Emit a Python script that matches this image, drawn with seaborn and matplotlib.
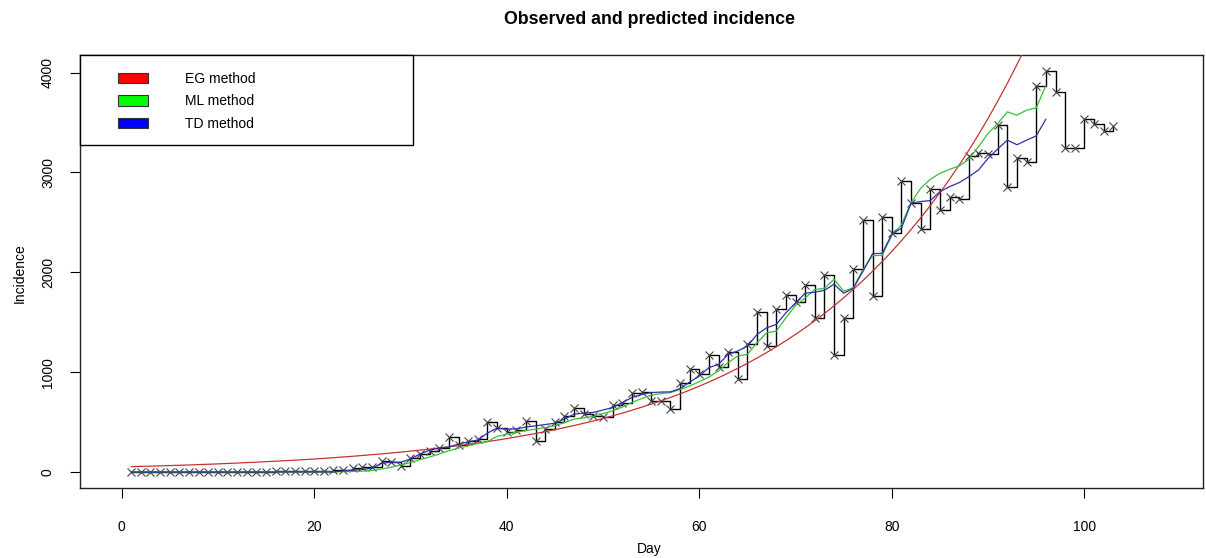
import matplotlib
matplotlib.use('Agg')
import matplotlib.pyplot as plt
from matplotlib.patches import Patch, Rectangle
import seaborn as sns
import numpy as np

# Observed incidence, days 1..103
days_obs = np.arange(1, 104)
observed = [2, 0, 1, 0, 0, 2, 1, 3, 1, 2, 3, 2, 4, 3, 2, 5, 6, 8,
            10, 12, 12, 15,
            23, 37, 47, 53, 113, 97, 63, 137, 180, 213, 236, 346, 270, 313, 329, 500, 440, 400,
            418, 512, 312, 429, 505, 560, 645, 579, 565, 546, 675, 695, 795, 798, 712, 712, 632, 895, 1035, 978,
            1168, 1051, 1200, 928, 1277, 1604, 1260, 1627, 1770, 1700, 1876, 1544, 1976, 1168, 1544, 2033, 2525, 1766, 2550, 2392,
            2917, 2698, 2432, 2831, 2625, 2751, 2731, 3164, 3190, 3180, 3473, 2855, 3147, 3100, 3865, 4015, 3806, 3247, 3240, 3533, 3486, 3413, 3466]

# Predicted incidence, days 1..96
days_pred = np.arange(1, 97)
eg_pred = [53, 56, 58, 61, 64, 67, 70, 74, 77, 81, 85, 89, 94, 98, 103, 108, 113, 118, 124, 130,
           136, 143, 150, 157, 165, 173, 181, 190, 199, 209, 219, 229, 240, 252, 264, 277, 290, 304, 319, 334,
           351, 368, 385, 404, 423, 444, 465, 488, 511, 536, 562, 589, 618, 648, 679, 712, 746, 782, 820, 859,
           901, 944, 990, 1038, 1088, 1141, 1196, 1254, 1314, 1378, 1444, 1514, 1587, 1664, 1744, 1829, 1917, 2010, 2107, 2209,
           2316, 2428, 2545, 2668, 2797, 2932, 3074, 3222, 3378, 3541, 3713, 3892, 4080, 4277, 4484, 4701]
ml_pred = [0, 0, 0, 0, 0, 0, 0, 0, 0, 0, 0, 0, 0, 0, 0, 0, 0, 0, 0, 0, 1, 2,
           3, 5, 8, 15, 30, 48, 70, 95, 123, 150, 180, 213, 240, 263, 285, 305, 356, 379,
           400, 415, 429, 445, 462, 495, 529, 543, 556, 585, 612, 650, 695, 735, 768, 785, 795, 825, 860, 905,
           950, 1011, 1095, 1161, 1178, 1294, 1394, 1410, 1544, 1667, 1744, 1826, 1840, 1930, 1810, 1845, 2026, 2166, 2170, 2370,
           2475, 2698, 2841, 2931, 2991, 3031, 3064, 3131, 3257, 3390, 3490, 3606, 3573, 3623, 3646, 3870]
td_pred = [0, 0, 0, 0, 0, 0, 0, 0, 0, 0, 0, 0, 0, 0, 0, 0, 0, 0, 0, 0, 0, 0,
           10, 18, 25, 37, 87, 97, 97, 130, 180, 218, 240, 250, 280, 302, 320, 389, 440, 429,
           432, 450, 462, 475, 489, 530, 579, 590, 596, 620, 646, 695, 745, 775, 795, 800, 802, 835, 900, 960,
           1045, 1078, 1178, 1211, 1260, 1377, 1444, 1477, 1594, 1693, 1790, 1800, 1820, 1880, 1790, 1840, 2009, 2186, 2190, 2380,
           2442, 2692, 2708, 2718, 2808, 2857, 2898, 2957, 3024, 3140, 3235, 3323, 3277, 3323, 3366, 3533]

methods = ['EG method', 'ML method', 'TD method']
legend_colors = ['#ff0000', '#00ff00', '#0000ff']
line_colors = ['#c83232', '#35c035', '#3030a8']

sns.set_theme(style='ticks')
plt.rcParams['font.family'] = ['Liberation Sans', 'DejaVu Sans']
plt.rcParams['text.color'] = 'black'

fig = plt.figure(figsize=(12.06, 5.58), dpi=100)
ax = fig.add_axes([80 / 1206, 1 - 488 / 558, 1123 / 1206, 433 / 558])

# observed: R style type="s" with pch=4
sns.lineplot(x=days_obs, y=observed, ax=ax, color='black', linewidth=1.0,
             drawstyle='steps-post', marker='x', markersize=6,
             markeredgecolor='#444444', markeredgewidth=0.8, estimator=None, zorder=2)

for vals, col in zip([eg_pred, ml_pred, td_pred], line_colors):
    sns.lineplot(x=days_pred, y=vals, ax=ax, color=col, linewidth=0.9,
                 estimator=None, zorder=3)

ax.set_xlim(-4.32, 112.32)
ax.set_ylim(-160.6, 4175.6)
ax.set_xticks([0, 20, 40, 60, 80, 100])
ax.set_yticks([0, 1000, 2000, 3000, 4000])
ax.tick_params(axis='both', direction='out', length=7, width=0.8, color='black',
               labelsize=10, labelcolor='black')
ax.tick_params(axis='x', pad=16)
ax.tick_params(axis='y', pad=11)
for lab in ax.get_yticklabels():
    lab.set_rotation(90)
    lab.set_va('center')
for sp in ax.spines.values():
    sp.set_visible(True)
    sp.set_color('#222222')
    sp.set_linewidth(1.0)

ax.set_xlabel('Day', fontsize=10, color='black')
ax.xaxis.set_label_coords(0.507, -0.141)
ax.xaxis.label.set_va('center')
ax.set_ylabel('Incidence', fontsize=10, color='black')
ax.yaxis.set_label_coords(-0.0534, 0.4965)
ax.yaxis.label.set_va('center')

ax.set_title('Observed and predicted incidence', fontsize=12.8, fontweight='bold',
             x=0.507, y=1.081, pad=0, va='center', color='black')

# legend frame attached to the top-left corner
ax.add_patch(Rectangle((0, 1 - 90 / 433), 333 / 1123, 90 / 433, transform=ax.transAxes,
                       facecolor='white', edgecolor='black', linewidth=1.0, zorder=5,
                       clip_on=False))
handles = [Patch(facecolor=c, edgecolor='#333333', linewidth=0.8, label=m)
           for c, m in zip(legend_colors, methods)]
leg = ax.legend(handles=handles, loc='upper left', bbox_to_anchor=(38 / 1123, 1 - 17 / 433),
                frameon=False, fontsize=10, borderpad=0, borderaxespad=0,
                handlelength=2.15, handleheight=0.8, handletextpad=2.7, labelspacing=0.6)
for t in leg.get_texts():
    t.set_color('black')
leg.set_zorder(6)

fig.savefig('out.png', dpi=100)
